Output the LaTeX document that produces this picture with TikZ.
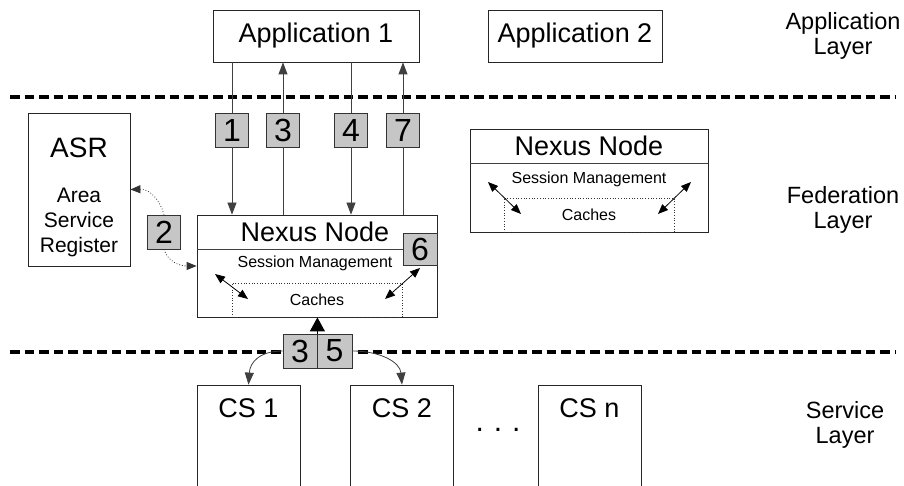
\documentclass[tikz,border=0pt]{standalone}
\usepackage{fontspec}
\setmainfont{Liberation Sans}
\usetikzlibrary{arrows.meta}
\tikzset{
  box/.style={draw=black!85, line width=0.8pt, fill=white, inner sep=0pt},
  numbox/.style={draw=black!80, line width=0.8pt, fill=gray!45, inner sep=0pt,
    minimum width=33pt, minimum height=34pt, font=\fontsize{32}{32}\selectfont},
  cachebox/.style={draw=black!80, dotted, line width=0.7pt, inner sep=0pt,
    minimum width=170pt, minimum height=34pt, font=\fontsize{16}{16}\selectfont},
  arr/.style={draw=black!75, line width=0.8pt, -{Triangle[length=12pt,width=9pt]}},
  line/.style={draw=black!75, line width=0.8pt},
  dbl/.style={draw=black, line width=0.8pt, {Triangle[length=10pt,width=8pt]}-{Triangle[length=10pt,width=8pt]}},
  dotarr/.style={draw=black!80, dotted, line width=0.8pt, -{Triangle[length=10pt,width=8pt]}},
  layer/.style={dashed, line width=4pt, dash pattern=on 9.5pt off 5pt},
  big/.style={font=\fontsize{27}{27}\selectfont},
  small/.style={font=\fontsize{16}{16}\selectfont},
  lbl/.style={align=center, font=\fontsize{23.5}{25}\selectfont}
}
\begin{document}
\begin{tikzpicture}[x=1pt,y=-1pt]
\clip (0,0) rectangle (904,486);
\fill[white] (0,0) rectangle (904,486);

% layer separators
\draw[layer] (10,97) -- (895,97);
\draw[layer] (10,352) -- (895,352);

% applications
\node[box, minimum width=206pt, minimum height=52pt, big] (app1) at (316,36) {Application 1};
\node[box, minimum width=174pt, minimum height=52pt, big] (app2) at (575,36) {Application 2};

% main nexus node
\node[box, minimum width=240pt, minimum height=102pt] (nexus) at (317,266) {};
\draw[line] (197,249) -- (437,249);
\node[big] (nxt) at (315,232) {Nexus Node};
\node[small] (sm1) at (315,263) {Session Management};
\node[cachebox] (c1) at (317,300) {Caches};
\node[numbox, minimum height=32pt, minimum width=34pt] (b6) at (420,249) {6};
\coordinate (d1a) at (215,274); \coordinate (d1b) at (248,299);
\coordinate (d2a) at (420,268); \coordinate (d2b) at (385,299);
\draw[dbl] (d1a) -- (d1b);
\draw[dbl] (d2a) -- (d2b);

% second nexus node
\node[box, minimum width=238pt, minimum height=103pt] (nexus2) at (589,180.5) {};
\draw[line] (470,163) -- (708,163);
\node[big] (nxt2) at (589,146) {Nexus Node};
\node[small] (sm2) at (589,179) {Session Management};
\node[cachebox] (c2) at (589,215) {Caches};
\coordinate (e1a) at (488,182); \coordinate (e1b) at (521,214);
\coordinate (e2a) at (691,182); \coordinate (e2b) at (658,214);
\draw[dbl] (e1a) -- (e1b);
\draw[dbl] (e2a) -- (e2b);

% ASR
\node[box, minimum width=102pt, minimum height=153pt] (asr) at (79,189.5) {};
\node[font=\fontsize{28}{28}\selectfont] (asrt) at (79,148) {ASR};
\node[align=center, font=\fontsize{21}{25}\selectfont] (asrd) at (79,222) {Area\\Service\\Register};
\node[numbox] (b2) at (164,232) {2};
\draw[dotarr] (b2.north) .. controls (160,200) and (150,189) .. (asr.east);
\draw[dotarr] (b2.south) .. controls (168,262) and (180,266) .. (nexus.west);

% numbered messages between application 1 and nexus
\node[numbox] (b1) at (232,130) {1};
\node[numbox] (b3) at (283,130) {3};
\node[numbox] (b4) at (351,130) {4};
\node[numbox] (b7) at (403,130) {7};
\draw[line] (app1.south -| b1) -- (b1.north);
\draw[arr] (b1.south) -- (nexus.north -| b1);
\draw[line] (nexus.north -| b3) -- (b3.south);
\draw[arr] (b3.north) -- (app1.south -| b3);
\draw[line] (app1.south -| b4) -- (b4.north);
\draw[arr] (b4.south) -- (nexus.north -| b4);
\draw[line] (nexus.north -| b7) -- (b7.south);
\draw[arr] (b7.north) -- (app1.south -| b7);

% content services
\node[box, minimum width=103pt, minimum height=120pt] (cs1) at (248.5,445) {};
\node[box, minimum width=103pt, minimum height=120pt] (cs2) at (402,445) {};
\node[box, minimum width=103pt, minimum height=120pt] (csn) at (589.5,445) {};
\node[big] (cs1t) at (248.5,408) {CS 1};
\node[big] (cs2t) at (402,408) {CS 2};
\node[big] (csnt) at (589.5,408) {CS n};
\node[font=\fontsize{30}{30}\selectfont] (dots) at (498,430) {.\,\,.\,\,.};

% 3|5 box
\node[numbox, minimum width=34pt] (b3b) at (300,351) {3};
\node[numbox, minimum width=35pt] (b5) at (334.5,351) {5};
\draw[draw=black, line width=1.2pt, -{Triangle[length=14pt,width=15pt]}] (b3b.north east) -- (nexus.south -| b3b.north east);
\draw[arr] (b3b.west) .. controls (260,351) and (250,362) .. (cs1.north);
\draw[arr] (b5.east) .. controls (380,351) and (400,362) .. (cs2.north);

% layer labels
\node[lbl] (l1) at (843,36) {Application\\Layer};
\node[lbl] (l2) at (843,209.5) {Federation\\Layer};
\node[lbl] (l3) at (845,425) {Service\\Layer};
\end{tikzpicture}
\end{document}
